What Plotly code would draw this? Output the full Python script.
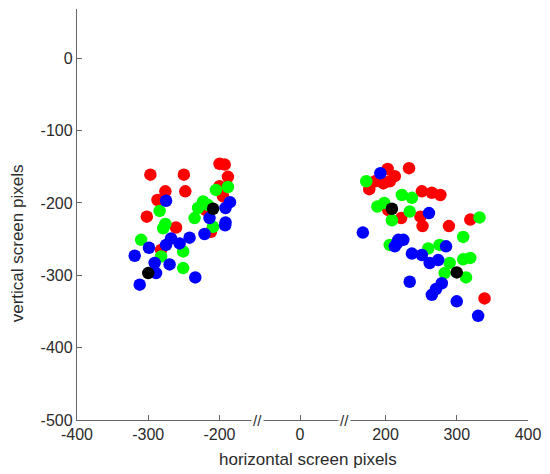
import numpy as np
import plotly.graph_objects as go

# ---- data (screen pixel coordinates) ----
red_x = [-297, -250, -200, -187, -179, -248, -276, -287, -302, -200, -191, -261, -212, -282, -219,
         203, 233, 176, 162, 195, 206, 213, 251, 265, 277, 222, 249, 204, 289, 319, 339, 252]
red_y = [-161, -161, -146, -147, -164, -184, -184, -196, -219, -177, -191, -234, -240, -265, -210,
         -153, -152, -170, -181, -173, -170, -163, -184, -186, -189, -221, -219, -210, -232, -223, -332, -232]

green_x = [-179, -205, -223, -230, -235, -284, -276, -209, -310, -279, -282, -251, -251, -216,
           155, 223, 237, 181, 197, 234, 209, 260, 206, 332, 309, 290, 309, 319, 283, 313, 276]
green_y = [-178, -182, -198, -207, -221, -211, -229, -233, -251, -235, -274, -267, -290, -203,
           -170, -189, -193, -205, -200, -212, -224, -263, -258, -220, -247, -283, -278, -276, -297, -303, -258]

blue_x = [-275, -174, -185, -214, -185, -319, -299, -275, -268, -256, -242, -221, -186, -291, -270, -289, -312, -234,
          188, 261, 147, 218, 225, 213, 237, 251, 262, 274, 285, 234, 279, 271, 265, 300, 330, 216]
blue_y = [-197, -199, -207, -221, -227, -273, -262, -258, -249, -256, -248, -243, -231, -283, -285, -297, -313, -303,
          -159, -214, -241, -251, -251, -260, -270, -272, -283, -279, -260, -309, -311, -319, -327, -336, -356, -256]

black_x = [-300, -209, 209, 300]
black_y = [-297, -208, -208, -296]

x_ticks = [-400, -300, -200, 0, 200, 300, 400]
y_ticks = [0, -100, -200, -300, -400, -500]
x_breaks = [-105, 103]

x_title = "horizontal screen pixels"
y_title = "vertical screen pixels"

# ---- broken x scale: compressed middle section ----
knots_data = [-400, -200, 0, 200, 400]
knots_disp = [0, 200, 313, 433, 633]


def xs(v):
    return np.interp(np.asarray(v, dtype=float), knots_data, knots_disp)


FONT = "Liberation Sans, Arial"
TXT = "#2b2b2b"

fig = go.Figure()
for xv, yv, col in [(red_x, red_y, "#ff0000"), (green_x, green_y, "#00ff00"),
                    (blue_x, blue_y, "#0000ff"), (black_x, black_y, "#000000")]:
    fig.add_trace(go.Scatter(x=xs(xv), y=yv, mode="markers",
                             marker=dict(size=12.5, color=col, line=dict(width=0)),
                             showlegend=False, hoverinfo="skip"))

for b in x_breaks:
    fig.add_annotation(x=float(xs(b)), y=-500, xref="x", yref="y", text="//",
                       showarrow=False, bgcolor="white", font=dict(family=FONT, size=15, color=TXT),
                       borderpad=1)

# axis titles placed as in the reference
fig.add_annotation(x=0.512, y=-0.097, xref="paper", yref="paper", text=x_title,
                   showarrow=False, xanchor="center", yanchor="middle",
                   font=dict(family=FONT, size=17, color=TXT))
fig.add_annotation(x=-0.132, y=0.431, xref="paper", yref="paper", text=y_title,
                   showarrow=False, xanchor="center", yanchor="middle", textangle=-90,
                   font=dict(family=FONT, size=17, color=TXT))

axis_common = dict(showline=True, linecolor="#666", linewidth=1.3, ticks="inside", ticklen=5,
                   tickcolor="#666", showgrid=False, zeroline=False,
                   tickfont=dict(family=FONT, size=16, color=TXT))

fig.update_xaxes(range=[0, 633], tickmode="array", tickvals=list(xs(x_ticks)),
                 ticktext=[str(t) for t in x_ticks], **axis_common)
fig.update_yaxes(range=[-500, 68], tickmode="array", tickvals=y_ticks,
                 ticktext=[str(t) for t in y_ticks], **axis_common)

fig.update_layout(width=550, height=474, margin=dict(l=77, r=18, t=9, b=54),
                  plot_bgcolor="white", paper_bgcolor="white")

fig.write_html("out.html")
